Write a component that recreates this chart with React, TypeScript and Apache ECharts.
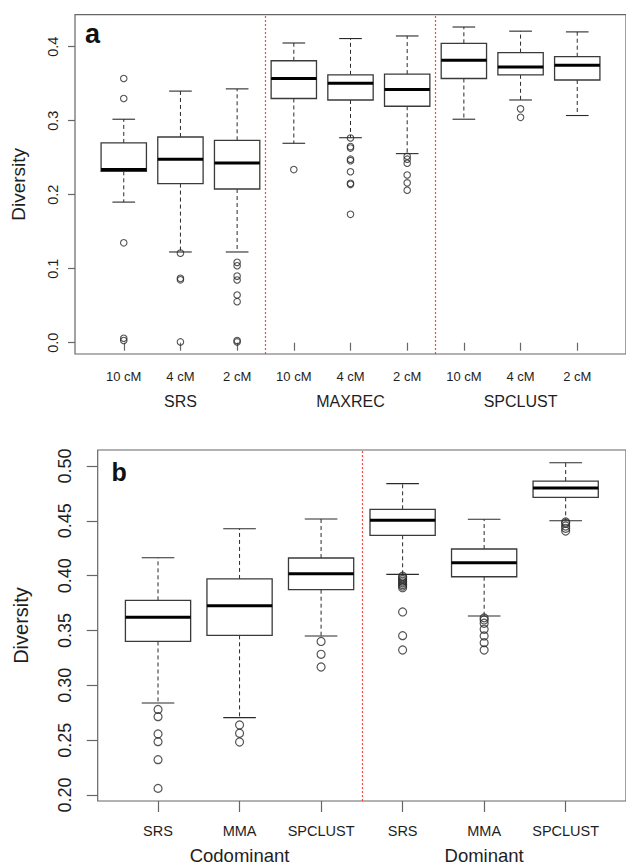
import React, { useEffect, useRef } from 'react';
import * as echarts from 'echarts';

// ---------- Panel a ----------
const categoriesA = ['10 cM', '4 cM', '2 cM', '10 cM', '4 cM', '2 cM', '10 cM', '4 cM', '2 cM'];
const groupsA = ['SRS', 'MAXREC', 'SPCLUST'];
// [lower whisker, Q1, median, Q3, upper whisker]
const boxesA = [
  [0.190, 0.2316, 0.234, 0.270, 0.302],
  [0.1226, 0.215, 0.248, 0.278, 0.340],
  [0.1226, 0.2077, 0.243, 0.2735, 0.343],
  [0.2695, 0.330, 0.357, 0.381, 0.405],
  [0.277, 0.328, 0.3505, 0.362, 0.411],
  [0.2555, 0.3195, 0.342, 0.363, 0.4145],
  [0.302, 0.357, 0.3816, 0.4046, 0.4266],
  [0.328, 0.362, 0.3726, 0.392, 0.421],
  [0.307, 0.355, 0.375, 0.3865, 0.420],
];
const outliersA = [
  [0.357, 0.330, 0.135, 0.006, 0.003],
  [0.121, 0.087, 0.085, 0.001],
  [0.1086, 0.104, 0.090, 0.0847, 0.0645, 0.0554, 0.003, 0.001],
  [0.234],
  [0.2766, 0.265, 0.263, 0.248, 0.246, 0.231, 0.2154, 0.214, 0.1735],
  [0.252, 0.248, 0.2425, 0.2266, 0.216, 0.206],
  [],
  [0.316, 0.3046],
  [],
];
const ticksA = [0, 0.1, 0.2, 0.3, 0.4];
const dividersA = [3.5, 6.5];

// ---------- Panel b ----------
const categoriesB = ['SRS', 'MMA', 'SPCLUST', 'SRS', 'MMA', 'SPCLUST'];
const groupsB = ['Codominant', 'Dominant'];
const boxesB = [
  [0.2839, 0.340, 0.362, 0.3775, 0.4164],
  [0.2705, 0.3456, 0.3726, 0.397, 0.4428],
  [0.345, 0.3872, 0.4018, 0.4161, 0.4517],
  [0.4012, 0.4368, 0.4505, 0.4605, 0.4839],
  [0.3632, 0.399, 0.4118, 0.4243, 0.4514],
  [0.4501, 0.4714, 0.4799, 0.4863, 0.503],
];
const outliersB = [
  [0.278, 0.2714, 0.2556, 0.2486, 0.2322, 0.206],
  [0.2638, 0.2563, 0.2483],
  [0.340, 0.3283, 0.3167],
  [0.3995, 0.398, 0.3965, 0.395, 0.3935, 0.392, 0.3905, 0.389, 0.3669, 0.3453, 0.3322],
  [0.3615, 0.3596, 0.3566, 0.3511, 0.345, 0.3389, 0.3322],
  [0.449, 0.4477, 0.4453, 0.4432, 0.4407],
];
const ticksB = [0.2, 0.25, 0.3, 0.35, 0.4, 0.45, 0.5];
const dividersB = [3.5];

const FONT = 'Liberation Sans, Arial, sans-serif';
const TEXT = '#1e1e1e';
const FRAME = '#666';
const RED = '#ff3030';

const renderBox = (params: any, api: any) => {
  const x = api.value(0);
  const vMin = api.value(1), q1 = api.value(2), med = api.value(3), q3 = api.value(4), vMax = api.value(5);
  const w = api.size([0.8, 0])[0];
  const p = (v: number) => api.coord([x, v]);
  const [cx, yMin] = p(vMin);
  const yQ1 = p(q1)[1], yMed = p(med)[1], yQ3 = p(q3)[1], yMax = p(vMax)[1];
  const dash = { stroke: '#2a2a2a', lineWidth: 1, lineDash: [4, 3] };
  const solid = { stroke: '#2a2a2a', lineWidth: 1.1 };
  return {
    type: 'group',
    children: [
      { type: 'line', shape: { x1: cx, y1: yQ3, x2: cx, y2: yMax }, style: dash },
      { type: 'line', shape: { x1: cx, y1: yQ1, x2: cx, y2: yMin }, style: dash },
      { type: 'line', shape: { x1: cx - w / 4, y1: yMax, x2: cx + w / 4, y2: yMax }, style: solid },
      { type: 'line', shape: { x1: cx - w / 4, y1: yMin, x2: cx + w / 4, y2: yMin }, style: solid },
      { type: 'rect', shape: { x: cx - w / 2, y: yQ3, width: w, height: yQ1 - yQ3 }, style: { fill: '#fff', stroke: '#3a3a3a', lineWidth: 1.3 } },
      { type: 'line', shape: { x1: cx - w / 2, y1: yMed, x2: cx + w / 2, y2: yMed }, style: { stroke: '#000', lineWidth: 3 } },
    ],
  };
};

const dividerSeries = (xi: number, yi: number, values: number[]) => ({
  type: 'scatter', xAxisIndex: xi, yAxisIndex: yi, data: [], silent: true,
  markLine: {
    silent: true, symbol: ['none', 'none'], label: { show: false },
    lineStyle: { color: RED, type: [2, 2], width: 1.2, opacity: 0.9 },
    emphasis: { disabled: true },
    data: values.map((d) => ({ xAxis: d, lineStyle: { color: RED } })),
  },
});

export default function App() {
  const ref = useRef<HTMLDivElement>(null);
  useEffect(() => {
    if (!ref.current) return;
    const chart = echarts.init(ref.current, undefined, { renderer: 'svg' });
    const idxA = categoriesA.map((_, i) => i + 1);
    const idxB = categoriesB.map((_, i) => i + 1);
    const option: any = {
      animation: false,
      backgroundColor: '#fff',
      grid: [
        { left: 75, top: 14.7, height: 339.3, right: -3, show: true, borderColor: FRAME, borderWidth: 1.2, backgroundColor: 'transparent' },
        { left: 97.7, top: 450, height: 351, right: -2.4, show: true, borderColor: FRAME, borderWidth: 1.2, backgroundColor: 'transparent' },
      ],
      xAxis: [
        {
          gridIndex: 0, type: 'value', min: 0.14, max: 9.86, position: 'bottom',
          axisLine: { show: false }, splitLine: { show: false },
          axisTick: { show: true, customValues: idxA, length: 8, lineStyle: { color: FRAME, width: 1.2 } },
          axisLabel: { customValues: idxA, formatter: (v: number) => categoriesA[Math.round(v) - 1], margin: 16, fontSize: 13, color: TEXT, fontFamily: FONT },
        },
        {
          gridIndex: 0, type: 'value', min: 0.14, max: 9.86, position: 'bottom', offset: 0,
          axisLine: { show: false }, splitLine: { show: false }, axisTick: { show: false },
          axisLabel: { customValues: [2, 5, 8], formatter: (v: number) => groupsA[Math.round((v - 2) / 3)], margin: 39, fontSize: 16, color: TEXT, fontFamily: FONT },
        },
        {
          gridIndex: 1, type: 'value', min: 0.26, max: 6.74, position: 'bottom',
          axisLine: { show: false }, splitLine: { show: false },
          axisTick: { show: true, customValues: idxB, length: 11, lineStyle: { color: FRAME, width: 1.2 } },
          axisLabel: { customValues: idxB, formatter: (v: number) => categoriesB[Math.round(v) - 1], margin: 22, fontSize: 14.5, color: TEXT, fontFamily: FONT },
        },
        {
          gridIndex: 1, type: 'value', min: 0.26, max: 6.74, position: 'bottom', offset: 0,
          axisLine: { show: false }, splitLine: { show: false }, axisTick: { show: false },
          axisLabel: { customValues: [2, 5], formatter: (v: number) => groupsB[Math.round((v - 2) / 3)], margin: 45, fontSize: 18.5, color: TEXT, fontFamily: FONT },
        },
      ],
      yAxis: [
        {
          gridIndex: 0, type: 'value', min: -0.01527, max: 0.44324,
          axisLine: { show: false }, splitLine: { show: false },
          axisTick: { show: true, customValues: ticksA, length: 7, lineStyle: { color: FRAME, width: 1.2 } },
          axisLabel: { customValues: ticksA, rotate: 90, formatter: (v: number) => v.toFixed(1), margin: 15, fontSize: 14.5, color: TEXT, fontFamily: FONT },
          name: 'Diversity', nameLocation: 'middle', nameGap: 47, nameRotate: 90,
          nameTextStyle: { fontSize: 19, color: TEXT, fontFamily: FONT },
        },
        {
          gridIndex: 1, type: 'value', min: 0.1945, max: 0.5146,
          axisLine: { show: false }, splitLine: { show: false },
          axisTick: { show: true, customValues: ticksB, length: 11, lineStyle: { color: FRAME, width: 1.2 } },
          axisLabel: { customValues: ticksB, rotate: 90, formatter: (v: number) => v.toFixed(2), margin: 24, fontSize: 18, color: TEXT, fontFamily: FONT },
          name: 'Diversity', nameLocation: 'middle', nameGap: 67, nameRotate: 90,
          nameTextStyle: { fontSize: 20, color: TEXT, fontFamily: FONT },
        },
      ],
      series: [
        dividerSeries(0, 0, dividersA),
        {
          type: 'custom', xAxisIndex: 0, yAxisIndex: 0, renderItem: renderBox,
          encode: { x: 0, y: [1, 2, 3, 4, 5] },
          data: boxesA.map((b, i) => [i + 1, ...b]),
        },
        {
          type: 'scatter', xAxisIndex: 0, yAxisIndex: 0, symbol: 'circle', symbolSize: 6.5,
          itemStyle: { color: 'transparent', borderColor: '#2a2a2a', borderWidth: 1.1 },
          data: outliersA.flatMap((arr, i) => arr.map((v) => [i + 1, v])),
        },
        dividerSeries(2, 1, dividersB),
        {
          type: 'custom', xAxisIndex: 2, yAxisIndex: 1, renderItem: renderBox,
          encode: { x: 0, y: [1, 2, 3, 4, 5] },
          data: boxesB.map((b, i) => [i + 1, ...b]),
        },
        {
          type: 'scatter', xAxisIndex: 2, yAxisIndex: 1, symbol: 'circle', symbolSize: 8,
          itemStyle: { color: 'transparent', borderColor: '#2a2a2a', borderWidth: 1.2 },
          data: outliersB.flatMap((arr, i) => arr.map((v) => [i + 1, v])),
        },
      ],
      graphic: [
        { type: 'text', left: 85, top: 20, style: { text: 'a', font: `bold 27px ${FONT}`, fill: '#111' } },
        { type: 'text', left: 111.5, top: 459, style: { text: 'b', font: `bold 25px ${FONT}`, fill: '#111' } },
      ],
    };
    chart.setOption(option);
    return () => chart.dispose();
  }, []);
  return <div ref={ref} style={{ position: 'absolute', left: 0, top: 0, width: 626, height: 866 }} />;
}
